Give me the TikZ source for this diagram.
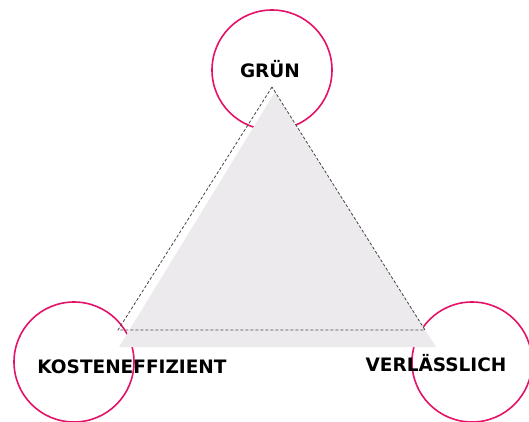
\documentclass[tikz,border=0pt]{standalone}
\usepackage{fontspec}
\setsansfont{DejaVu Sans}
\usetikzlibrary{positioning, backgrounds}
\definecolor{ringcol}{RGB}{228, 19, 104}
\definecolor{areacol}{RGB}{236, 234, 237}
\definecolor{edgecol}{RGB}{70, 70, 70}
\tikzset{
  ring/.style  = {circle, draw=ringcol, line width=1.6pt, fill=white,
                  minimum size=120pt, inner sep=0pt},
  area/.style  = {fill=areacol, draw=none},
  edge/.style  = {draw=edgecol, dash pattern=on 3pt off 2pt, line width=0.8pt},
  goal/.style  = {font=\sffamily\bfseries\fontsize{18.5}{20}\selectfont,
                  text=black, inner sep=1pt},
}
\begin{document}
\begin{tikzpicture}[x=1pt, y=-1pt]
  \useasboundingbox (0,0) rectangle (529,422);

  %% ---------------- rings ----------------
  \node[ring] (top)   at (272, 70)  {};
  \node[ring] (left)  at (74, 362)  {};
  \node[ring] (right) at (472, 362) {};

  %% ---------------- triangle ----------------
  \fill[area] (275, 92) -- (119, 347) -- (436, 347) -- cycle;

  \coordinate (apex) at (272, 87);
  \coordinate (bl)   at (118, 330);
  \coordinate (br)   at (425, 330);
  \draw[edge] (apex) -- (bl) -- (br) -- (apex);

  %% ---------------- labels ----------------
  \node[goal] (gruen) at (270, 69)  {GRÜN};
  \node[goal] (kost)  at (132, 367) {KOSTENEFFIZIENT};
  \node[goal] (verl)  at (436, 363) {VERLÄSSLICH};
\end{tikzpicture}
\end{document}
